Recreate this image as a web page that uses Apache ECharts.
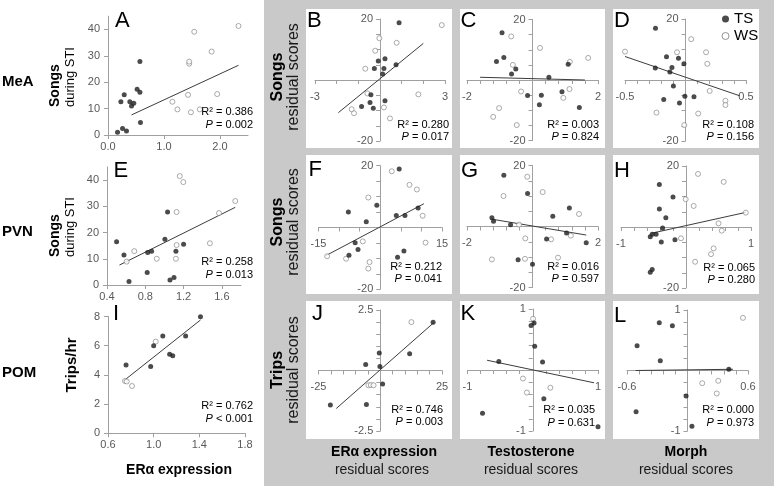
<!DOCTYPE html>
<html><head><meta charset="utf-8">
<script src="https://cdn.jsdelivr.net/npm/echarts@6/dist/echarts.min.js"></script>
<style>html,body{margin:0;padding:0;background:#fff}#c{width:774px;height:486px}</style>
</head><body><div id="c"></div><script>
// ---------- DATA ----------
// Left column: raw scores (x = ERa expression, y = songs / trips)
const tsA = [[0.17,1.0],[0.26,2.5],[0.33,1.5],[0.23,12.6],[0.29,15.2],[0.39,12.6],[0.42,11.0],[0.46,12.0],[0.52,17.3],[0.57,16.2],[0.57,27.8],[0.58,4.7]];
const wsA = [[1.15,12.6],[1.24,9.7],[1.43,15.2],[1.45,27.0],[1.45,27.8],[1.48,8.6],[1.54,39.1],[1.64,9.7],[1.85,31.6],[1.95,15.5],[2.33,41.3]];
const fitA = [[0.42,7.6],[2.33,26.4]];
const tsE = [[0.50,16.5],[0.577,11.4],[0.63,1.3],[0.825,12.4],[0.82,4.8],[0.866,12.9],[1.005,17.4],[1.033,27.8],[1.058,1.9],[1.1,2.9],[1.12,12.9],[1.2,15.5]];
const wsE = [[0.605,8.9],[0.685,12.9],[0.92,10.0],[1.127,27.8],[1.127,15.2],[1.12,10.0],[1.16,41.5],[1.197,39.2],[1.475,15.9],[1.57,27.4],[1.74,32.0]];
const fitE = [[0.53,7.6],[1.74,29.6]];
const tsI = [[0.758,4.68],[0.974,4.57],[1.0,6.0],[1.08,6.67],[1.14,5.41],[1.167,5.32],[1.28,6.67],[1.41,7.99]];
const wsI = [[0.749,3.58],[0.764,3.55],[0.81,3.24],[1.018,6.28]];
const fitI = [[0.735,3.58],[1.41,7.76]];
// Residual panels
const tsB = [[0.88,18.8],[-0.08,6.2],[0.23,7.0],[-0.26,3.8],[0.18,3.8],[0.12,2.0],[0.74,5.0],[-0.42,-4.8],[-0.46,-7.4],[-0.85,-8.7],[-0.31,-9.3],[0.23,-6.8]];
const wsB = [[-0.03,13.7],[0.77,12.2],[-0.22,9.6],[-0.68,3.7],[2.85,18.0],[-0.58,-4.4],[1.77,-4.7],[0.18,-9.0],[0.46,-12.6],[-1.31,-9.6],[-1.2,-10.9]];
const fitB = [[-1.92,-10.7],[2.0,12.0]];
const tsC = [[-0.93,15.6],[-0.875,7.4],[-1.1,6.1],[-0.51,3.6],[-0.64,2.0],[0.5,0.9],[-0.15,-5.1],[0.27,-5.0],[0.21,-8.2],[0.9,-3.9],[1.09,5.2],[1.43,-9.1]];
const wsC = [[-0.65,14.4],[0.23,10.6],[-0.6,5.0],[-0.35,-3.8],[-1.02,-9.3],[-1.2,-12.2],[-0.48,-14.9],[1.14,6.0],[1.13,-3.0],[0.94,-5.9],[1.7,7.3]];
const fitC = [[-1.6,0.9],[1.6,0.0]];
const tsD = [[-0.248,17.0],[-0.25,3.9],[-0.157,7.6],[-0.058,7.1],[-0.013,5.3],[-0.112,4.1],[-0.129,2.6],[-0.1,-2.0],[-0.18,-6.4],[-0.05,-7.5],[-0.005,-5.3],[0.07,-5.5]];
const wsD = [[-0.5,9.3],[0.047,13.4],[-0.07,9.1],[0.17,9.1],[0.18,5.3],[0.2,-3.6],[0.33,-6.8],[0.33,-8.2],[-0.24,-10.7],[0.105,-11.0],[-0.01,-14.8]];
const fitD = [[-0.5,7.7],[0.45,-5.2]];
const tsF = [[4.6,18.9],[-7.75,5.0],[-3.4,1.9],[-0.83,7.2],[3.9,3.9],[6.0,3.9],[9.2,6.3],[-6.1,-4.9],[-5.4,-7.1],[-7.6,-9.0],[4.2,-9.6],[5.75,-7.6]];
const wsF = [[2.8,18.2],[7.1,13.8],[8.9,12.3],[-2.9,9.7],[10.3,3.8],[-4.25,-4.5],[11.0,-4.9],[-12.9,-9.3],[-8.3,-10.1],[-2.6,-11.2],[-2.9,-13.3]];
const fitF = [[-13.2,-9.1],[10.6,7.7]];
const tsG = [[-0.875,16.8],[-0.15,10.8],[-1.24,2.9],[-1.19,1.7],[-0.67,0.6],[0.62,3.4],[1.125,6.1],[1.04,-2.1],[0.43,-4.1],[-0.44,-10.9],[0.0,-12.4],[1.64,-5.3]];
const wsG = [[-0.16,16.3],[-0.885,10.0],[0.31,11.3],[-0.41,0.6],[1.42,4.1],[-0.22,-3.9],[0.57,-4.2],[1.17,-3.0],[-1.24,-10.8],[-0.23,-10.6],[0.78,-10.2]];
const fitG = [[-1.24,2.4],[1.64,-2.8]];
const tsH = [[-0.41,13.9],[-0.2,9.8],[-0.41,5.9],[-0.31,3.0],[-0.36,-0.3],[-0.46,-2.4],[-0.52,-2.4],[-0.55,-3.2],[-0.38,-4.9],[-0.17,-4.2],[-0.52,-13.9],[-0.55,-14.8]];
const wsH = [[0.185,17.4],[0.58,14.8],[-0.005,9.1],[0.118,6.9],[0.92,4.7],[0.5,1.2],[0.55,-1.2],[-0.077,-3.7],[0.425,-7.0],[0.385,-8.9],[0.14,-11.4]];
const fitH = [[-0.52,-2.0],[0.92,4.8]];
const tsJ = [[21.4,1.99],[11.9,0.69],[-0.4,0.72],[-5.9,0.25],[-0.14,0.17],[0.96,-0.56],[-20.2,-1.43],[-5.6,-1.4]];
const wsJ = [[12.6,2.0],[-4.8,-0.61],[-3.8,-0.6],[-2.7,-0.61]];
const fitJ = [[-17.8,-1.57],[21.6,1.97]];
const tsK = [[0.02,0.77],[-0.026,0.73],[0.03,0.39],[0.15,0.13],[-0.52,0.14],[0.17,-0.47],[-0.77,-0.71],[1.0,-0.93]];
const wsK = [[0.005,0.84],[-0.15,-0.14],[-0.09,-0.37],[0.27,-0.29]];
const fitK = [[-0.70,0.16],[0.94,-0.21]];
const tsL = [[-0.28,0.79],[-0.15,0.74],[-0.5,0.41],[-0.27,0.16],[0.41,0.02],[-0.014,-0.42],[-0.51,-0.68],[0.044,-0.92]];
const wsL = [[0.55,0.87],[0.146,-0.21],[0.305,-0.17],[0.29,-0.38]];
const fitL = [[-0.515,0.0],[0.45,0.02]];

// Statistics text
const panelKeys = ['A','B','C','D','E','F','G','H','I','J','K','L'];
const r2Vals = ['0.386','0.280','0.003','0.108','0.258','0.212','0.016','0.065','0.762','0.746','0.035','0.000'];
const pVals  = ['= 0.002','= 0.017','= 0.824','= 0.156','= 0.013','= 0.041','= 0.597','= 0.280','< 0.001','= 0.003','= 0.631','= 0.973'];

// Tick label values
const xLabA = [0,1,2], yLabA = [0,10,20,30,40];
const xLabE = [0.4,0.8,1.2,1.6], yLabE = [0,10,20,30,40];
const xLabI = [0.6,1.0,1.4,1.8], yLabI = [0,2,4,6,8];
const xLabB = [-3,3], xLabC = [-2,2], xLabD = [-0.5,0.5];
const xLabF = [-15,15], xLabG = [-2,2], xLabH = [-1,1];
const xLabJ = [-25,25], xLabK = [-1,1], xLabL = [-0.6,0.6];
const yLabSongs = [-20,20], yLabTrips = [-2.5,2.5], yLabUnit = [-1,1];

// Labels
const rowNames = ['MeA','PVN','POM'];
const colNames = ['ERα expression','Testosterone','Morph'];

// ---------- LAYOUT ----------
const FONT = '"Liberation Sans", Arial, sans-serif';
const AXC = '#a0a0a0';
function steps(a, b, s) { const r = []; const n = Math.round((b - a) / s); for (let i = 0; i <= n; i++) r.push(Math.round((a + i * s) * 1e6) / 1e6); return r; }

const panels = {
  A:{ts:tsA, ws:wsA, fit:fitA, g:[108,16.2,140,118.8], x:{min:0,max:2.5,t:xLabA,l:xLabA,dec:1,m:6}, y:{min:0,max:45,t:yLabA,l:yLabA,m:8}},
  E:{ts:tsE, ws:wsE, fit:fitE, g:[107,166.9,134,118.1], x:{min:0.4,max:1.8,t:xLabE,l:xLabE,dec:1,m:6}, y:{min:0,max:45,t:yLabE,l:yLabE,m:8}},
  I:{ts:tsI, ws:wsI, fit:fitI, g:[108,316.5,137,116.8], x:{min:0.6,max:1.8,t:xLabI,l:xLabI,dec:1,m:6}, y:{min:0,max:8,t:yLabI,l:yLabI,m:8}},
  B:{ts:tsB, ws:wsB, fit:fitB, g:[315,19,130,122], x:{min:-3,max:3,t:steps(-3,3,1),l:xLabB,m:11}, y:{min:-20,max:20,t:steps(-20,20,5),l:yLabSongs,m:7}},
  C:{ts:tsC, ws:wsC, fit:fitC, g:[467,19.5,131,121], x:{min:-2,max:2,t:steps(-2,2,0.4),l:xLabC,m:11}, y:{min:-20,max:20,t:steps(-20,20,5),l:yLabSongs,m:7}},
  D:{ts:tsD, ws:wsD, fit:fitD, g:[625,19,121,122], x:{min:-0.5,max:0.5,t:steps(-0.5,0.5,0.1),l:xLabD,m:11}, y:{min:-20,max:20,t:steps(-20,20,5),l:yLabSongs,m:7}},
  F:{ts:tsF, ws:wsF, fit:fitF, g:[318.5,165.7,123.5,123.6], x:{min:-15,max:15,t:steps(-15,15,5),l:xLabF,m:11}, y:{min:-20,max:20,t:steps(-20,20,5),l:yLabSongs,m:7}},
  G:{ts:tsG, ws:wsG, fit:fitG, g:[467,165.5,131,122], x:{min:-2,max:2,t:steps(-2,2,0.4),l:xLabG,m:11}, y:{min:-20,max:20,t:steps(-20,20,5),l:yLabSongs,m:7}},
  H:{ts:tsH, ws:wsH, fit:fitH, g:[621,166,130,122], x:{min:-1,max:1,t:steps(-1,1,0.2),l:xLabH,m:11}, y:{min:-20,max:20,t:steps(-20,20,5),l:yLabSongs,m:7}},
  J:{ts:tsJ, ws:wsJ, fit:fitJ, g:[318.5,310,123.5,121], x:{min:-25,max:25,t:steps(-25,25,5),l:xLabJ,m:11}, y:{min:-2.5,max:2.5,t:steps(-2.5,2.5,0.5),l:yLabTrips,m:7}},
  K:{ts:tsK, ws:wsK, fit:fitK, g:[467.5,309,130.5,122], x:{min:-1,max:1,t:steps(-1,1,0.2),l:xLabK,m:11}, y:{min:-1,max:1,t:steps(-1,1,0.2),l:yLabUnit,m:7}},
  L:{ts:tsL, ws:wsL, fit:fitL, g:[627,310,121,121], x:{min:-0.6,max:0.6,t:steps(-0.6,0.6,0.12),l:xLabL,m:11}, y:{min:-1,max:1,t:steps(-1,1,0.2),l:yLabUnit,m:7}}
};

// letter positions & stats positions
const letterPos = {A:[115,21],B:[307,20.5],C:[460.5,21],D:[614,21],E:[113.5,170.5],F:[308.5,170],G:[461,170.5],H:[614,170.5],I:[113,314],J:[312,314],K:[460.5,313.5],L:[614,316]};
const statPos = {A:[253,112,125],B:[449,125,136.5],C:[599,125,136.5],D:[754,125,136.5],E:[253,262,275],F:[442,267,279],G:[599,267,279],H:[755,268,280],I:[253,406,418.5],J:[443,410,422],K:[595,410,422.5],L:[754,410,422.5]};

// axis crossing at zero: shift the whole axis (line, ticks, labels) into the plot
function mkAxis(gi, c, dim, g) {
  const len = dim === 'x' ? g[3] : g[2];
  const other = dim === 'x' ? g.yr : g.xr;
  let offset = 0;
  if (other[0] < 0 && other[1] > 0) offset = -len * (0 - other[0]) / (other[1] - other[0]);
  return {
    type:'value', gridIndex:gi, min:c.min, max:c.max, z:3,
    position: dim === 'x' ? 'bottom' : 'left', offset: offset,
    axisLine:{show:true, onZero:false, lineStyle:{color:AXC, width:1}},
    axisTick:{show:true, customValues:c.t, length:4, lineStyle:{color:AXC, width:1}},
    axisLabel:{show:true, customValues:c.l, margin:c.m, fontSize:11, color:'#595959', fontFamily:FONT,
      formatter: v => c.dec != null ? Number(v).toFixed(c.dec) : String(Math.round(v*1e6)/1e6)},
    splitLine:{show:false}
  };
}

const grids = [], xAxes = [], yAxes = [], series = [];
panelKeys.forEach((k, i) => {
  const p = panels[k];
  const g = p.g.slice(); g.xr = [p.x.min, p.x.max]; g.yr = [p.y.min, p.y.max];
  grids.push({left:p.g[0], top:p.g[1], width:p.g[2], height:p.g[3], containLabel:false});
  xAxes.push(mkAxis(i, p.x, 'x', g));
  yAxes.push(mkAxis(i, p.y, 'y', g));
  series.push({type:'line', xAxisIndex:i, yAxisIndex:i, data:p.fit, symbol:'none', showSymbol:false, silent:true,
    lineStyle:{color:'#3c3c3c', width:1}, z:3});
  series.push({type:'scatter', name:'TS', xAxisIndex:i, yAxisIndex:i, data:p.ts, symbol:'circle', symbolSize:5, silent:true,
    itemStyle:{color:'#1e1e1e'}, z:5});
  series.push({type:'scatter', name:'WS', xAxisIndex:i, yAxisIndex:i, data:p.ws, symbol:'circle', symbolSize:5, silent:true,
    itemStyle:{color:'#ffffff', borderColor:'#7a7a7a', borderWidth:0.8}, z:4});
});

// ---------- GRAPHICS ----------
const gfx = [];
gfx.push({type:'rect', shape:{x:264,y:0,width:510,height:486}, style:{fill:'#c9c9c9'}, z:-5, silent:true});
const colX = [306,460,613], colW = [146,145,146], rowY = [9,155,301], rowH = [139,139,138];
rowY.forEach((ry, r) => colX.forEach((cx, c) => {
  gfx.push({type:'rect', shape:{x:cx,y:ry,width:colW[c],height:rowH[r]}, style:{fill:'#ffffff'}, z:-4, silent:true});
}));
function txt(x, y, s, o) {
  return {type:'text', x:x, y:y, z:10, silent:true,
    style:Object.assign({text:s, fontFamily:FONT, fontSize:12, fill:'#000', align:'left', verticalAlign:'middle'}, o || {})};
}
panelKeys.forEach((k, i) => {
  const lp = letterPos[k];
  gfx.push(txt(lp[0], lp[1], k, {fontSize:22}));
  const sp = statPos[k];
  gfx.push(txt(sp[0], sp[1], 'R² = ' + r2Vals[i], {fontSize:11, align:'right'}));
  gfx.push(txt(sp[0], sp[2], '{i|P} ' + pVals[i], {fontSize:11, align:'right',
    rich:{i:{fontStyle:'italic', fontSize:11, fontFamily:FONT, fill:'#000'}}}));
});
// left column labels
const rowLabelY = [82, 232, 373];
rowNames.forEach((n, r) => gfx.push(txt(2, rowLabelY[r], n, {fontSize:15, fontWeight:'bold'})));
[107, 257].forEach(yb => {
  gfx.push(Object.assign(txt(55, yb, 'Songs', {fontSize:14, fontWeight:'bold'}), {rotation:Math.PI/2}));
  gfx.push(Object.assign(txt(70, yb, 'during STI', {fontSize:13}), {rotation:Math.PI/2}));
});
gfx.push(Object.assign(txt(72, 365, 'Trips/hr', {fontSize:15, fontWeight:'bold', align:'center'}), {rotation:Math.PI/2}));
gfx.push(txt(179, 470, colNames[0], {fontSize:14, fontWeight:'bold', align:'center'}));
// gray region labels
const sideY = [77, 222, 370];
['Songs','Songs','Trips'].forEach((n, r) => {
  gfx.push(Object.assign(txt(278, sideY[r], n, {fontSize:16, fontWeight:'bold', align:'center'}), {rotation:Math.PI/2}));
  gfx.push(Object.assign(txt(293.5, sideY[r], 'residual scores', {fontSize:16, align:'center', fill:'#1a1a1a'}), {rotation:Math.PI/2}));
});
const colCX = [384, 531, 686];
colNames.forEach((n, c) => {
  gfx.push(txt(colCX[c], 452, n, {fontSize:14, fontWeight:'bold', align:'center'}));
  gfx.push(txt(colCX[c] - (c===0?2:0), 470, 'residual scores', {fontSize:14, align:'center', fill:'#1a1a1a'}));
});

const chart = echarts.init(document.getElementById('c'), null, {renderer:'canvas'});
chart.setOption({
  animation:false,
  backgroundColor:'#ffffff',
  textStyle:{fontFamily:FONT},
  grid:grids, xAxis:xAxes, yAxis:yAxes, series:series,
  legend:{data:[{name:'TS', icon:'circle', itemStyle:{color:'#1e1e1e'}},
                {name:'WS', icon:'circle', itemStyle:{color:'#ffffff', borderColor:'#7a7a7a', borderWidth:1}}],
    orient:'vertical', left:721.5, top:11.5, padding:0, itemWidth:7, itemHeight:7, itemGap:2, selectedMode:false,
    textStyle:{fontSize:15, color:'#000', fontFamily:FONT, lineHeight:15}},
  graphic:{elements:gfx}
});
</script></body></html>
